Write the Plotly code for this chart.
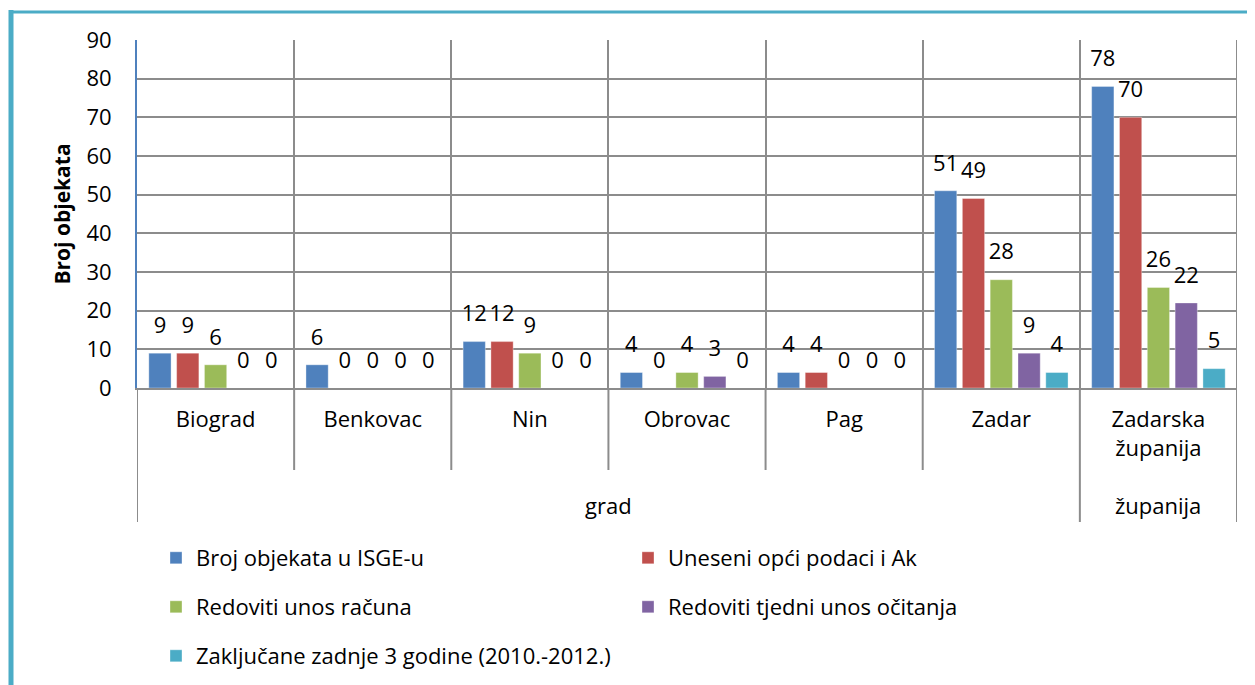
import plotly.graph_objects as go

categories = ["Biograd", "Benkovac", "Nin", "Obrovac", "Pag", "Zadar", "Zadarska<br>županija"]
groups = ["grad", "grad", "grad", "grad", "grad", "grad", "županija"]
series_names = [
    "Broj objekata u ISGE-u",
    "Uneseni opći podaci i Ak",
    "Redoviti unos računa",
    "Redoviti tjedni unos očitanja",
    "Zaključane zadnje 3 godine (2010.-2012.)",
]
broj_objekata = [9, 6, 12, 4, 4, 51, 78]
uneseni_podaci = [9, 0, 12, 0, 4, 49, 70]
redoviti_racuni = [6, 0, 9, 4, 0, 28, 26]
redoviti_ocitanja = [0, 0, 0, 3, 0, 9, 22]
zakljucane = [0, 0, 0, 0, 0, 4, 5]
series_values = [broj_objekata, uneseni_podaci, redoviti_racuni, redoviti_ocitanja, zakljucane]
colors = ["#4F81BD", "#C0504D", "#9BBB59", "#8064A2", "#4BACC6"]
y_ticks = [0, 10, 20, 30, 40, 50, 60, 70, 80, 90]

FONT = "Open Sans"
OFF = 8  # page body margin
SW, SH = 1255, 685
W, H = SW - OFF, SH - OFF
PL, PR, PT, PB = 137, 1237, 40, 388  # plot area in screen pixels
ML, MR, MT, MB = PL - OFF, SW - PR, PT - OFF, SH - PB
PW, PH = PR - PL, PB - PT

def px_x(p):
    return (p - PL) / PW

def px_y(p):
    return (PB - p) / PH

fig = go.Figure()
legend_ids = ["legend", "legend", "legend2", "legend2", "legend3"]
for name, vals, col, lg in zip(series_names, series_values, colors, legend_ids):
    fig.add_trace(go.Bar(
        x=categories, y=vals, name=name,
        marker=dict(color=col, line=dict(color="rgba(255,255,255,0.35)", width=1)),
        legend=lg, hoverinfo="x+y+name",
    ))
for name, vals in zip(series_names, series_values):
    fig.add_trace(go.Scatter(
        x=categories, y=vals, mode="markers+text", text=[str(v) for v in vals],
        textposition="top center",
        textfont=dict(family=FONT, size=22, color="#000000"),
        marker=dict(size=22, opacity=0),
        showlegend=False, hoverinfo="skip", cliponaxis=False,
    ))

n = len(categories)
shapes = []
for i in range(n - 1):
    y_end = px_y(470) if groups[i] == groups[i + 1] else px_y(522)
    shapes.append(dict(type="line", xref="x", yref="paper", x0=i + 0.5, x1=i + 0.5,
                       y0=0, y1=y_end, line=dict(color="#8C8C8C", width=2)))
for xb in (-0.5, n - 0.5):
    shapes.append(dict(type="line", xref="x", yref="paper", x0=xb, x1=xb,
                       y0=0, y1=px_y(522), line=dict(color="#8C8C8C", width=2)))
shapes.append(dict(type="line", xref="x", yref="paper", x0=n - 0.5, x1=n - 0.5,
                   y0=0, y1=1, line=dict(color="#8C8C8C", width=2)))
# outer frame
shapes.append(dict(type="line", xref="paper", yref="paper", x0=px_x(11), x1=px_x(11),
                   y0=px_y(10), y1=px_y(700), line=dict(color="#4BACC6", width=5)))
shapes.append(dict(type="line", xref="paper", yref="paper", x0=px_x(9), x1=px_x(1260),
                   y0=px_y(12), y1=px_y(12), line=dict(color="#4BACC6", width=3)))

annotations = []
uniq = []
for g in groups:
    if g not in uniq:
        uniq.append(g)
for g in uniq:
    idx = [i for i, gg in enumerate(groups) if gg == g]
    annotations.append(dict(text=g, xref="x", yref="paper", x=(idx[0] + idx[-1]) / 2,
                            y=px_y(505), showarrow=False, yanchor="middle",
                            font=dict(family=FONT, size=22, color="#000000")))

leg_common = dict(orientation="h", xanchor="left", yanchor="middle",
                  entrywidth=427, entrywidthmode="pixels",
                  font=dict(family=FONT, size=22, color="#000000"),
                  bgcolor="rgba(0,0,0,0)", itemclick=False, itemdoubleclick=False)

fig.update_layout(
    width=W, height=H,
    margin=dict(l=ML, r=MR, t=MT, b=MB, autoexpand=False),
    paper_bgcolor="white", plot_bgcolor="white",
    barmode="group", bargap=0.115, bargroupgap=0.2,
    scattermode="group", scattergap=0.115,
    font=dict(family=FONT, size=22, color="#000000"),
    xaxis=dict(type="category", range=[-0.5, n - 0.5], tickson="boundaries",
               showgrid=True, gridcolor="#8C8C8C", gridwidth=2,
               showline=True, linecolor="#8C8C8C", linewidth=2,
               ticks="", ticklabelstandoff=11, automargin=False,
               tickfont=dict(family=FONT, size=22, color="#000000")),
    yaxis=dict(range=[0, 90], tickvals=y_ticks, showgrid=True, gridcolor="#8C8C8C",
               gridwidth=2, showline=True, linecolor="#4F81BD", linewidth=2,
               zeroline=False, ticks="", ticklabelstandoff=19, automargin=False,
               tickfont=dict(family=FONT, size=22, color="#000000"),
               title=dict(text="<b>Broj objekata</b>", standoff=10,
                          font=dict(family=FONT, size=21, color="#000000"))),
    legend=dict(x=px_x(156), y=px_y(558), **leg_common),
    legend2=dict(x=px_x(156), y=px_y(607), **leg_common),
    legend3=dict(x=px_x(156), y=px_y(656), **leg_common),
    shapes=shapes, annotations=annotations,
    showlegend=True,
)

fig.write_html("out.html")
